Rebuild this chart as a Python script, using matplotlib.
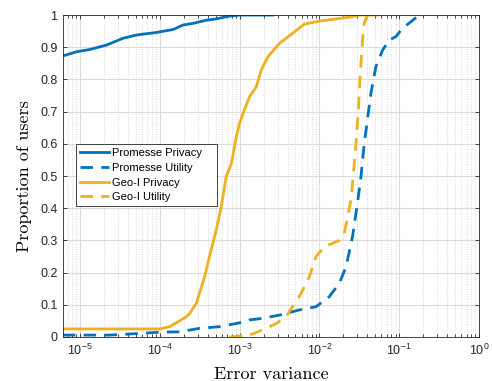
import matplotlib
matplotlib.use("Agg")
import matplotlib.pyplot as plt
import matplotlib.ticker as ticker
import numpy as np

# CDF points (error variance, proportion of users)
prom_priv_x = [6.1e-6, 9.1e-6, 1.33e-5, 2.16e-5, 3.48e-5, 5.1e-5, 9.1e-5, 1.47e-4,
               1.95e-4, 2.6e-4, 3.84e-4, 5.1e-4, 7.5e-4, 1.0e-3, 2.6e-3]
prom_priv_y = [0.873, 0.886, 0.893, 0.907, 0.928, 0.938, 0.946, 0.955,
               0.969, 0.974, 0.984, 0.988, 0.997, 1.0, 1.0]

prom_util_x = [6.1e-6, 2.37e-5, 5.6e-5, 1.0e-4, 1.78e-4, 3.16e-4, 5.6e-4, 1.21e-3,
               1.33e-3, 1.95e-3, 3.16e-3, 5.6e-3, 9.1e-3, 1.33e-2, 1.78e-2, 2.16e-2,
               2.6e-2, 3.0e-2, 3.32e-2, 3.65e-2, 4.0e-2, 4.43e-2, 5.1e-2, 6.2e-2,
               7.5e-2, 9.1e-2, 0.11, 0.14, 0.178]
prom_util_y = [0.006, 0.006, 0.011, 0.015, 0.016, 0.027, 0.032, 0.048,
               0.053, 0.058, 0.068, 0.084, 0.094, 0.125, 0.167, 0.218,
               0.311, 0.415, 0.498, 0.60, 0.674, 0.757, 0.839, 0.891,
               0.922, 0.933, 0.959, 0.979, 1.0]

geo_priv_x = [6.1e-6, 1.0e-4, 1.33e-4, 2.16e-4, 2.37e-4, 2.88e-4, 3.65e-4, 4.2e-4,
              5.1e-4, 5.9e-4, 6.8e-4, 7.9e-4, 9.1e-4, 1.0e-3, 1.15e-3, 1.33e-3,
              1.62e-3, 1.87e-3, 2.26e-3, 3.16e-3, 4.6e-3, 6.5e-3, 1.0e-2, 1.62e-2,
              2.6e-2, 3.16e-2, 5.3e-2]
geo_priv_y = [0.025, 0.025, 0.032, 0.063, 0.073, 0.105, 0.187, 0.25,
              0.332, 0.405, 0.498, 0.539, 0.622, 0.664, 0.705, 0.746,
              0.777, 0.829, 0.87, 0.912, 0.943, 0.972, 0.981, 0.988,
              0.995, 1.0, 1.0]

geo_util_x = [7.5e-4, 1.33e-3, 1.95e-3, 2.88e-3, 3.83e-3, 4.6e-3, 5.6e-3, 7.5e-3,
              9.1e-3, 1.15e-2, 1.78e-2, 2.05e-2, 2.26e-2, 2.49e-2, 2.74e-2, 2.92e-2,
              3.1e-2, 3.26e-2, 3.48e-2, 3.65e-2, 4.0e-2, 5.3e-2]
geo_util_y = [0.0, 0.006, 0.022, 0.042, 0.063, 0.094, 0.125, 0.187,
              0.25, 0.28, 0.30, 0.322, 0.374, 0.425, 0.539, 0.622,
              0.716, 0.82, 0.922, 0.974, 1.0, 1.0]

y_ticks = [0, 0.1, 0.2, 0.3, 0.4, 0.5, 0.6, 0.7, 0.8, 0.9, 1]
y_tick_labels = ['0', '0.1', '0.2', '0.3', '0.4', '0.5', '0.6', '0.7', '0.8', '0.9', '1']

blue = '#0072BD'
yellow = '#EDB120'

plt.rcParams['font.family'] = ['Liberation Sans', 'DejaVu Sans']
plt.rcParams['mathtext.fontset'] = 'custom'
plt.rcParams['mathtext.rm'] = 'Liberation Sans'
plt.rcParams['mathtext.it'] = 'Liberation Sans:italic'
plt.rcParams['mathtext.bf'] = 'Liberation Sans:bold'

fig = plt.figure(figsize=(4.92, 3.81), dpi=100)
ax = fig.add_axes([0.128, 0.1155, 0.8455, 0.845])

lw = 2.0
dash = (4.5, 3)
ax.plot(prom_priv_x, prom_priv_y, color=blue, lw=lw, label='Promesse Privacy')
ax.plot(prom_util_x, prom_util_y, color=blue, lw=lw, dashes=dash, label='Promesse Utility')
ax.plot(geo_priv_x, geo_priv_y, color=yellow, lw=lw, label='Geo-I Privacy')
ax.plot(geo_util_x, geo_util_y, color=yellow, lw=lw, dashes=dash, label='Geo-I Utility')

ax.set_xscale('log')
ax.set_xlim(6.13e-6, 1)
ax.set_ylim(0, 1)
ax.xaxis.set_major_locator(ticker.LogLocator(base=10, numticks=20))
ax.xaxis.set_minor_locator(ticker.LogLocator(base=10, subs=np.arange(2, 10), numticks=100))
ax.xaxis.set_minor_formatter(ticker.NullFormatter())
ax.set_yticks(y_ticks)
ax.set_yticklabels(y_tick_labels)

ax.grid(which='major', color='#dcdcdc', lw=0.8, ls='-')
ax.grid(which='minor', axis='x', color='#cdcdcd', lw=0.6, ls=(0, (1, 2)))
ax.set_axisbelow(True)

ax.tick_params(which='both', direction='in', top=True, right=True,
               colors='#262626', labelsize=9, width=0.6)
ax.tick_params(which='major', length=3.2, pad=4)
ax.tick_params(which='minor', length=2.2)
for s in ax.spines.values():
    s.set_color('#262626')
    s.set_linewidth(0.6)

ax.set_xlabel('Error variance', family='cmr10', fontsize=13)
ax.set_ylabel('Proportion of users', family='cmr10', fontsize=13)
ax.xaxis.set_label_coords(0.5, -0.092)
ax.yaxis.set_label_coords(-0.075, 0.5)

leg = ax.legend(loc='upper left', bbox_to_anchor=(0.031, 0.398, 0.339, 0.2),
                mode='expand', borderaxespad=0, fontsize=8, fancybox=False,
                framealpha=1, edgecolor='#262626', handlelength=2.6,
                handletextpad=0.3, labelspacing=0.42, borderpad=0.35)
leg.get_frame().set_linewidth(0.6)

fig.savefig('out.png', dpi=100)
